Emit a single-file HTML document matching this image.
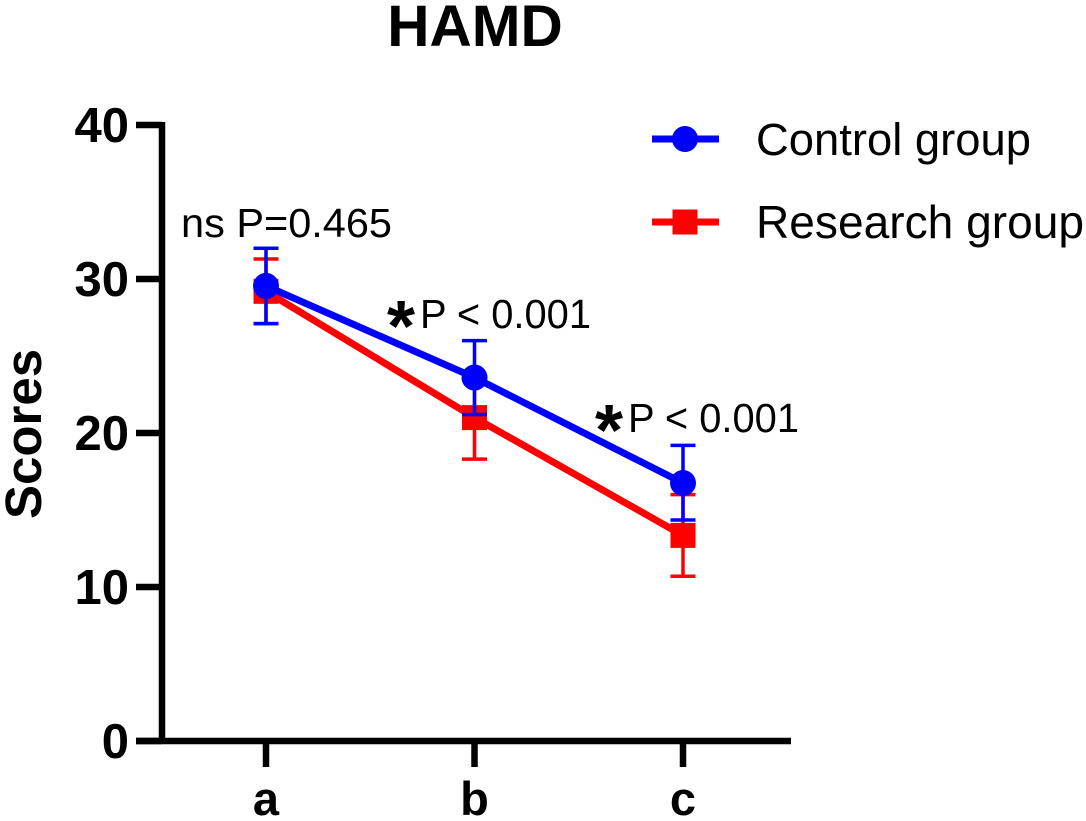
<!DOCTYPE html>
<html>
<head>
<meta charset="utf-8">
<style>
html,body{margin:0;padding:0;background:#fff;width:1086px;height:821px;overflow:hidden}
svg{display:block}
text{font-family:"Liberation Sans",Arial,sans-serif;fill:#000}
</style>
</head>
<body>
<svg id="chart" width="1086" height="821" viewBox="0 0 1086 821" xmlns="http://www.w3.org/2000/svg"></svg>
<script>
const categories = ['a', 'b', 'c'];
const yTickValues = [0, 10, 20, 30, 40];
const controlMeans = [29.55, 23.6, 16.75];
const controlUpper = [32.0, 26.0, 19.2];
const controlLower = [27.1, 21.2, 14.35];
const researchMeans = [29.2, 21.0, 13.35];
const researchUpper = [31.3, 23.7, 16.0];
const researchLower = [27.1, 18.3, 10.7];

const svg = document.getElementById('chart');
const NS = 'http://www.w3.org/2000/svg';
function yScale(v) { return 741 - v * 15.4; }
function xScale(i) { return 266 + i * 208.5; }
function make(tag, attrs, name, text) {
  const el = document.createElementNS(NS, tag);
  for (const k in attrs) el.setAttribute(k, attrs[k]);
  
  
  if (text !== undefined) el.textContent = text;
  svg.appendChild(el);
  return el;
}
function line(x1, y1, x2, y2, color, w, name) {
  return make('line', { x1: x1, y1: y1, x2: x2, y2: y2, stroke: color, 'stroke-width': w }, name);
}

// title
make('text', { x: 475, y: 46, 'text-anchor': 'middle', 'font-size': 58.5, 'font-weight': 'bold' }, 'chart-title', 'HAMD');

// axes
line(162, yScale(40) - 3, 162, yScale(0) + 3, '#000', 6.5, 'y-axis-line');
line(136, yScale(0), 791, yScale(0), '#000', 6.5, 'x-axis-line');
yTickValues.forEach(function (v) {
  line(136, yScale(v), 162, yScale(v), '#000', 6.5, 'y-tick-' + v);
  make('text', { x: 129, y: yScale(v) + 17, 'text-anchor': 'end', 'font-size': 49, 'font-weight': 'bold' }, 'y-tick-label-' + v, String(v));
});
categories.forEach(function (c, i) {
  line(xScale(i), yScale(0), xScale(i), 767, '#000', 6.5, 'x-tick-' + c);
  make('text', { x: xScale(i), y: 815, 'text-anchor': 'middle', 'font-size': 47, 'font-weight': 'bold' }, 'x-tick-label-' + c, c);
});
make('text', { x: 0, y: 0, transform: 'translate(41 434) rotate(-90)', 'text-anchor': 'middle', 'font-size': 51, 'font-weight': 'bold' }, 'y-axis-title', 'Scores');

// series
function drawSeries(key, color, means, upper, lower, shape) {
  const pts = means.map(function (m, i) { return xScale(i) + ',' + yScale(m); }).join(' ');
  make('polyline', { points: pts, fill: 'none', stroke: color, 'stroke-width': 7 }, key + '-line');
  means.forEach(function (m, i) {
    const x = xScale(i);
    line(x, yScale(upper[i]), x, yScale(lower[i]), color, 3.5, key + '-error-bar-' + categories[i]);
    line(x - 12.5, yScale(upper[i]), x + 12.5, yScale(upper[i]), color, 3.5, key + '-error-cap-upper-' + categories[i]);
    line(x - 12.5, yScale(lower[i]), x + 12.5, yScale(lower[i]), color, 3.5, key + '-error-cap-lower-' + categories[i]);
  });
  means.forEach(function (m, i) {
    const x = xScale(i), y = yScale(m);
    if (shape === 'circle') {
      make('circle', { cx: x, cy: y, r: 13, fill: color }, key + '-point-' + categories[i]);
    } else {
      make('rect', { x: x - 12.5, y: y - 12.5, width: 25, height: 25, fill: color }, key + '-point-' + categories[i]);
    }
  });
}
drawSeries('research', '#ff0000', researchMeans, researchUpper, researchLower, 'square');
drawSeries('control', '#0000ff', controlMeans, controlUpper, controlLower, 'circle');

// annotations
make('text', { x: 181, y: 237, 'font-size': 41, textLength: 211, lengthAdjust: 'spacingAndGlyphs' }, 'annotation-ns-a', 'ns P=0.465');
make('text', { x: 401, y: 351, 'text-anchor': 'middle', 'font-size': 72, 'font-weight': 'bold' }, 'significance-star-b', '*');
make('text', { x: 420, y: 328, 'font-size': 41, textLength: 171, lengthAdjust: 'spacingAndGlyphs' }, 'annotation-p-b', 'P < 0.001');
make('text', { x: 609, y: 455, 'text-anchor': 'middle', 'font-size': 72, 'font-weight': 'bold' }, 'significance-star-c', '*');
make('text', { x: 628, y: 432, 'font-size': 41, textLength: 171, lengthAdjust: 'spacingAndGlyphs' }, 'annotation-p-c', 'P < 0.001');

// legend
line(652, 139, 719, 139, '#0000ff', 7, 'legend-control-line');
make('circle', { cx: 685, cy: 139, r: 13, fill: '#0000ff' }, 'legend-control-marker');
make('text', { x: 756, y: 155, 'font-size': 45.5, textLength: 275, lengthAdjust: 'spacingAndGlyphs' }, 'legend-control-label', 'Control group');
line(652, 222, 719, 222, '#ff0000', 7, 'legend-research-line');
make('rect', { x: 672.5, y: 209.5, width: 25, height: 25, fill: '#ff0000' }, 'legend-research-marker');
make('text', { x: 756, y: 238, 'font-size': 46, textLength: 328, lengthAdjust: 'spacingAndGlyphs' }, 'legend-research-label', 'Research group');
</script>
</body>
</html>
